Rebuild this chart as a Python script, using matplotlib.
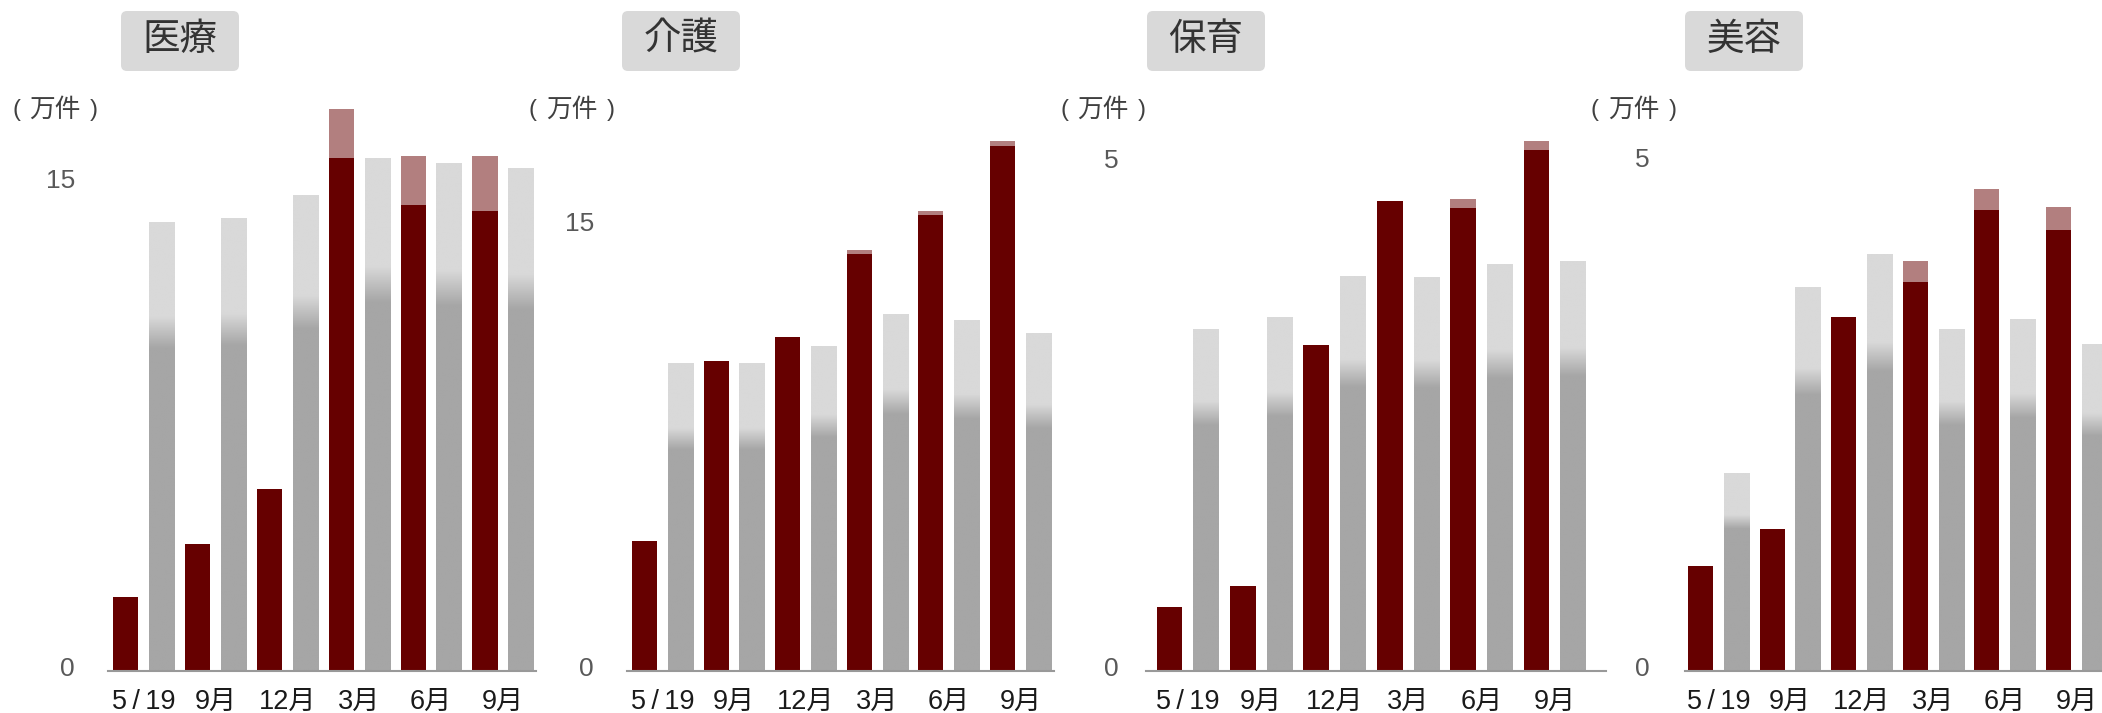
import matplotlib.pyplot as plt
import numpy as np
from matplotlib.patches import FancyBboxPatch
from matplotlib.colors import to_rgb
from matplotlib.transforms import IdentityTransform, ScaledTranslation

plt.rcParams['font.family'] = ['Liberation Sans', 'Noto Sans CJK JP', 'DejaVu Sans']

W, H = 2102, 713
BASE = 671   # pixel row of the zero line
TOP = 100    # pixel row of the axes top

periods = ['5\u2009/\u200919', '9月', '12月', '3月', '6月', '9月']
titles = ['医療', '介護', '保育', '美容']
unit = '万件'

# dark red bars, their stacked top (pale red part), grey bars  (万件)
med_dark = [2.27, 3.90, 5.58, 15.74, 14.29, 14.11]
med_total = [2.27, 3.90, 5.58, 17.24, 15.80, 15.80]
med_grey = [13.77, 13.87, 14.60, 15.71, 15.58, 15.40]

care_dark = [4.38, 10.45, 11.26, 14.05, 15.36, 17.69]
care_total = [4.38, 10.45, 11.26, 14.19, 15.50, 17.86]
care_grey = [10.35, 10.38, 10.95, 12.03, 11.83, 11.39]

nursery_dark = [0.63, 0.84, 3.21, 4.62, 4.55, 5.12]
nursery_total = [0.63, 0.84, 3.21, 4.62, 4.64, 5.21]
nursery_grey = [3.36, 3.48, 3.88, 3.87, 4.00, 4.03]

beauty_dark = [1.03, 1.39, 3.47, 3.82, 4.52, 4.33]
beauty_total = [1.03, 1.39, 3.47, 4.02, 4.73, 4.55]
beauty_grey = [1.94, 3.76, 4.09, 3.35, 3.45, 3.20]

series = [
    (med_dark, med_total, med_grey, 15),
    (care_dark, care_total, care_grey, 15),
    (nursery_dark, nursery_total, nursery_grey, 5),
    (beauty_dark, beauty_total, beauty_grey, 5),
]

# pixel layout: axes left/right, first bar centre, slot width, px per unit,
# y label pad, title centre, unit label centre
layout = [
    (108, 536, 125.5, 35.95, 32.6, 33, 180, 55),
    (627, 1054, 644.5, 35.8, 29.67, 33, 681, 572),
    (1146, 1606, 1169.5, 36.7, 101.7, 27, 1206, 1103),
    (1685, 2130, 1700.5, 35.8, 101.9, 35, 1744, 1634),
]

DARK_RED = '#660000'
PALE_RED = '#b27f7f'
GREY_LO = np.array(to_rgb('#a6a6a6'))
GREY_HI = np.array(to_rgb('#d9d9d9'))

# vertical fade used inside every grey bar
frac = np.linspace(0, 1, 300)
mix = np.clip((frac - 0.72) / 0.07, 0, 1)
fade = (GREY_LO[None, :] * (1 - mix[:, None]) + GREY_HI[None, :] * mix[:, None])[:, None, :]

fig = plt.figure(figsize=(W / 100, H / 100), dpi=100)
lift = ScaledTranslation(0, 4 / 100, fig.dpi_scale_trans)

for (dark, total, grey, tick), (L, R, c0, slot, ppu, ypad, tcx, ucx), title in zip(series, layout, titles):
    ax = fig.add_axes([L / W, 1 - BASE / H, (R - L) / W, (BASE - TOP) / H])
    xd = np.arange(6) * 2
    xg = xd + 1
    bw = 0.7

    ax.bar(xd, dark, width=bw, color=DARK_RED, zorder=3)
    ax.bar(xd, np.subtract(total, dark), bottom=dark, width=bw, color=PALE_RED, zorder=3)
    for x, h in zip(xg, grey):
        ax.imshow(fade, extent=(x - bw / 2, x + bw / 2, 0, h), origin='lower',
                  aspect='auto', interpolation='bilinear', zorder=2)

    ax.set_xlim((L - c0) / slot, (R - c0) / slot)
    ax.set_ylim(0, (BASE - TOP) / ppu)

    for s in ['top', 'right', 'left']:
        ax.spines[s].set_visible(False)
    ax.spines['bottom'].set_color('#999999')
    ax.spines['bottom'].set_linewidth(1.5)
    ax.spines['bottom'].set_zorder(4)

    ax.set_yticks([0, tick])
    ax.set_yticklabels(['0', str(tick)])
    ax.tick_params(axis='y', length=0, pad=ypad / 1.389, labelsize=19, labelcolor='#595959')
    for lab in ax.get_yticklabels():
        lab.set_transform(lab.get_transform() + lift)
    ax.set_xticks(xd + 0.5)
    ax.set_xticklabels(periods)
    ax.tick_params(axis='x', length=0, pad=13, labelsize=19.5, labelcolor='#1a1a1a')

    # title badge
    box = FancyBboxPatch((tcx - 59, H - 71), 118, 60, boxstyle='round,pad=0,rounding_size=6',
                         transform=IdentityTransform(), facecolor='#d9d9d9', edgecolor='none')
    fig.add_artist(box)
    fig.text(tcx / W, 1 - 40 / H, title, ha='center', va='center', fontsize=27, color='#333333')

    # unit label with loose brackets
    uy = 1 - 110 / H
    fig.text(ucx / W, uy, unit, ha='center', va='center', fontsize=18.5, color='#404040',
             family=['Noto Sans CJK JP'])
    fig.text((ucx - 39) / W, uy, '(', ha='center', va='center', fontsize=17, color='#404040')
    fig.text((ucx + 39) / W, uy, ')', ha='center', va='center', fontsize=17, color='#404040')

fig.savefig('out.png', dpi=100)
